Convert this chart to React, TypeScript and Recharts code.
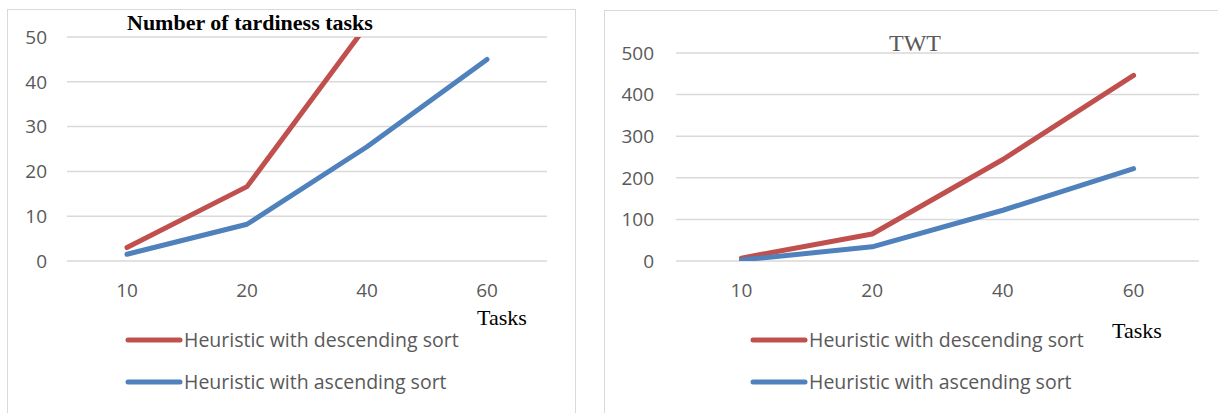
import React from 'react';
import { LineChart, Line, XAxis, YAxis, CartesianGrid } from 'recharts';

const tasks = ['10', '20', '40', '60'];
const tardyDescending = [3, 16.6, 52.7, 58];
const tardyAscending = [1.5, 8.2, 25.5, 45];
const twtDescending = [7, 65, 244, 446];
const twtAscending = [2.5, 34, 122, 222];
const tardyTicks = [0, 10, 20, 30, 40, 50];
const twtTicks = [0, 100, 200, 300, 400, 500];
const seriesNames = ['Heuristic with descending sort', 'Heuristic with ascending sort'];
const seriesColors = ['#C0504D', '#4F81BD'];

const sans = '"Open Sans", "Liberation Sans", sans-serif';
const serif = '"Liberation Serif", "Times New Roman", serif';
const grey = '#595959';

const build = (desc: number[], asc: number[]) =>
  tasks.map((t, i) => ({ tasks: t, desc: desc[i], asc: asc[i] }));

const tardyData = build(tardyDescending, tardyAscending);
const twtData = build(twtDescending, twtAscending);

const tickStyle = { fill: grey, fontSize: 19, fontFamily: sans };

type PanelProps = {
  data: { tasks: string; desc: number; asc: number }[];
  ticks: number[];
  width: number;
  top: number;
  right: number;
  yWidth: number;
  yGap: number;
  pad: number;
};

const Panel = ({ data, ticks, width, top, right, yWidth, yGap, pad }: PanelProps) => (
  <LineChart width={width} height={413} data={data} margin={{ top, right, bottom: 112, left: 0 }}>
    <CartesianGrid vertical={false} stroke="#D9D9D9" strokeWidth={1.5} />
    <XAxis
      dataKey="tasks"
      axisLine={false}
      tickLine={false}
      tickSize={0}
      tickMargin={23}
      height={40}
      interval={0}
      padding={{ left: pad, right: pad }}
      tick={tickStyle}
    />
    <YAxis
      domain={[ticks[0], ticks[ticks.length - 1]]}
      ticks={ticks}
      allowDataOverflow
      axisLine={false}
      tickLine={false}
      tickSize={0}
      tickMargin={yGap}
      width={yWidth}
      tick={tickStyle}
    />
    {['desc', 'asc'].map((key, i) => (
      <Line
        key={key}
        type="linear"
        dataKey={key}
        name={seriesNames[i]}
        stroke={seriesColors[i]}
        strokeWidth={5}
        strokeLinecap="round"
        strokeLinejoin="round"
        dot={false}
        activeDot={false}
        isAnimationActive={false}
      />
    ))}
  </LineChart>
);

const Legend = ({ x }: { x: number }) => (
  <g>
    {seriesNames.map((name, i) => (
      <g key={name}>
        <line x1={x} x2={x + 52} y1={340 + i * 42} y2={340 + i * 42} stroke={seriesColors[i]} strokeWidth={5} strokeLinecap="round" />
        <text x={x + 56} y={347 + i * 42} fill={grey} fontSize={19.5} fontFamily={sans}>{name}</text>
      </g>
    ))}
  </g>
);

export default function App() {
  return (
    <div style={{ position: 'absolute', left: 0, top: 0, width: 1218, height: 413, overflow: 'hidden', background: '#fff' }}>
      <div style={{ position: 'absolute', left: 7, top: 9, width: 567, height: 420, border: '1.5px solid #D9D9D9' }} />
      <div style={{ position: 'absolute', left: 604, top: 10, width: 700, height: 420, border: '1.5px solid #D9D9D9' }} />
      <div style={{ position: 'absolute', left: 0, top: 0 }}>
        <Panel data={tardyData} ticks={tardyTicks} width={575} top={37} right={28} yWidth={67} yGap={20} pad={60} />
      </div>
      <div style={{ position: 'absolute', left: 604, top: 0 }}>
        <Panel data={twtData} ticks={twtTicks} width={614} top={53} right={19} yWidth={72} yGap={22} pad={65.4} />
      </div>
      <svg width={1218} height={413} style={{ position: 'absolute', left: 0, top: 0, pointerEvents: 'none' }}>
        <text x={127} y={30} fontSize={22} fontWeight="bold" fontFamily={serif} fill="#000">Number of tardiness tasks</text>
        <text x={889} y={51} fontSize={24} fontFamily={serif} fill={grey}>TWT</text>
        <text x={477} y={325} fontSize={22} fontFamily={serif} fill="#000">Tasks</text>
        <text x={1112} y={338} fontSize={22} fontFamily={serif} fill="#000">Tasks</text>
        <Legend x={128} />
        <Legend x={753} />
      </svg>
    </div>
  );
}
